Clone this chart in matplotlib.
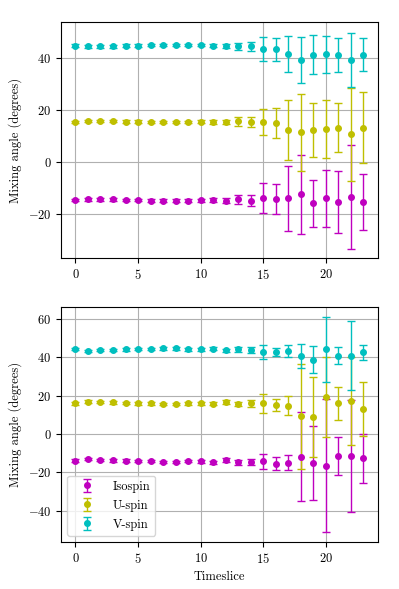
import matplotlib
matplotlib.use('Agg')
from matplotlib import pyplot as plt

plt.rcParams['font.family'] = 'serif'
plt.rcParams['font.serif'] = ['cmr10']
plt.rcParams['mathtext.fontset'] = 'cm'
plt.rcParams['axes.formatter.use_mathtext'] = True
plt.rcParams['font.size'] = 9

timeslices = list(range(24))
labels = ['Isospin', 'U-spin', 'V-spin']
colours = ['m', 'y', 'c']

# top panel
top_iso = [-14.6, -14.4, -14.4, -14.4, -14.6, -14.6, -14.9, -14.9, -14.9, -14.9, -14.7, -14.7,
           -14.9, -14.4, -14.9, -13.7, -14.2, -14.0, -12.4, -15.9, -14.0, -15.5, -13.5, -15.4]
top_iso_err = [0.5, 0.5, 0.5, 0.5, 0.5, 0.5, 0.5, 0.5, 0.5, 0.5, 0.6, 0.7,
               0.9, 1.6, 2.2, 5.8, 5.8, 12.6, 15.2, 9.1, 10.8, 11.9, 20.0, 10.8]
top_u = [15.4, 15.8, 15.8, 15.8, 15.5, 15.5, 15.4, 15.3, 15.3, 15.4, 15.4, 15.4,
         15.4, 15.6, 15.3, 15.5, 14.9, 12.3, 11.4, 12.3, 12.6, 13.2, 10.6, 13.2]
top_u_err = [0.5, 0.5, 0.5, 0.5, 0.5, 0.5, 0.5, 0.5, 0.5, 0.5, 0.6, 0.7,
             0.8, 1.6, 1.9, 5.0, 5.7, 11.6, 14.9, 10.3, 11.1, 9.4, 18.0, 13.6]
top_v = [44.7, 44.4, 44.4, 44.5, 44.7, 44.7, 44.9, 44.9, 44.9, 44.9, 44.9, 44.7,
         44.7, 44.4, 44.4, 43.3, 43.3, 41.4, 39.2, 41.2, 41.4, 41.2, 39.1, 41.3]
top_v_err = [0.5, 0.5, 0.5, 0.5, 0.5, 0.5, 0.5, 0.5, 0.5, 0.5, 0.5, 0.6,
             0.8, 1.3, 1.9, 4.6, 4.3, 7.0, 9.0, 7.5, 7.2, 6.5, 10.3, 6.4]

# bottom panel
bot_iso = [-13.9, -13.2, -13.6, -13.8, -13.9, -14.1, -14.1, -14.5, -14.5, -14.1, -14.3, -14.8,
           -13.6, -14.8, -14.5, -14.3, -15.5, -15.0, -11.8, -15.2, -16.5, -11.5, -11.5, -12.7]
bot_iso_err = [0.6, 0.6, 0.6, 0.6, 0.6, 0.6, 0.6, 0.6, 0.6, 0.7, 0.7, 0.7,
               0.8, 1.4, 1.6, 3.9, 3.4, 3.9, 23.4, 19.4, 34.8, 9.9, 29.4, 12.7]
bot_u = [15.9, 16.9, 16.5, 16.4, 16.2, 15.9, 15.9, 15.7, 15.7, 16.0, 16.0, 15.7,
         16.7, 15.7, 15.9, 15.9, 15.0, 14.8, 9.1, 8.9, 19.2, 15.9, 17.2, 13.1]
bot_u_err = [0.6, 0.6, 0.6, 0.6, 0.6, 0.6, 0.6, 0.6, 0.6, 0.7, 0.7, 0.7,
             0.9, 1.2, 1.9, 5.1, 3.1, 5.0, 27.5, 21.0, 21.0, 8.8, 22.9, 14.1]
bot_v = [44.2, 43.4, 43.7, 43.9, 44.1, 44.2, 44.4, 44.6, 44.6, 44.2, 44.2, 44.4,
         43.7, 44.1, 43.7, 42.9, 42.9, 43.2, 40.8, 38.8, 44.1, 40.8, 40.8, 42.5]
bot_v_err = [0.6, 0.6, 0.6, 0.6, 0.6, 0.6, 0.6, 0.6, 0.6, 0.7, 0.7, 0.7,
             0.8, 1.2, 1.7, 3.7, 2.0, 3.1, 6.3, 7.0, 17.0, 4.4, 17.9, 3.7]

top_series = [(top_iso, top_iso_err), (top_u, top_u_err), (top_v, top_v_err)]
bot_series = [(bot_iso, bot_iso_err), (bot_u, bot_u_err), (bot_v, bot_v_err)]

fig = plt.figure(figsize=(3.99, 5.89), dpi=100)
ax1 = fig.add_axes([0.153, 0.562, 0.794, 0.4006])
ax2 = fig.add_axes([0.153, 0.0798, 0.794, 0.3992])

for ax, series in ((ax1, top_series), (ax2, bot_series)):
    for (vals, errs), lab, col in zip(series, labels, colours):
        ax.errorbar(timeslices, vals, yerr=errs, fmt='o', color=col, markersize=4,
                    capsize=3, elinewidth=1, label=lab)
    ax.grid(True, color='#b0b0b0')
    ax.set_axisbelow(True)
    ax.set_ylabel('Mixing angle (degrees)')
    ax.set_xticks([0, 5, 10, 15, 20])

ax1.set_ylim(-36.9, 53.8)
ax1.set_yticks([-20, 0, 20, 40])
ax2.set_ylim(-56.4, 66.3)
ax2.set_yticks([-40, -20, 0, 20, 40, 60])
ax2.set_xlabel('Timeslice')
ax2.legend(loc='lower left', handlelength=2.4, labelspacing=0.55)

plt.savefig('out.png', dpi=100)
plt.close()
